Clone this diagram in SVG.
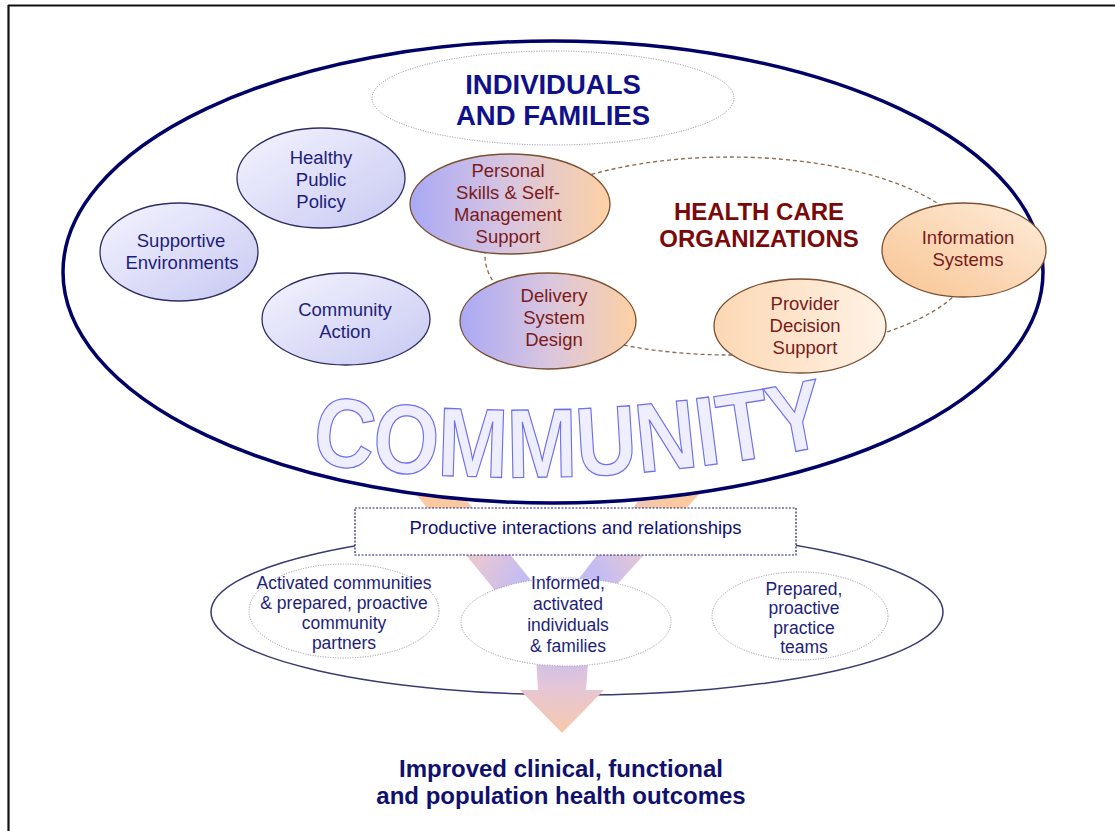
<svg xmlns="http://www.w3.org/2000/svg" width="1115" height="831" viewBox="0 0 1115 831">
<style>
  .nodeL { stroke:#2e2e66; stroke-width:1.3; }
  .nodeH { stroke:#7a4e2e; stroke-width:1.3; }
  .tL { font-family:"Liberation Sans", Arial, sans-serif; font-size:18.5px; fill:#1e1e7a; text-anchor:middle; }
  .tH { font-family:"Liberation Sans", Arial, sans-serif; font-size:18.5px; fill:#7a1a1a; text-anchor:middle; }
  .tB { font-family:"Liberation Sans", Arial, sans-serif; font-size:17.5px; fill:#1e1e7a; text-anchor:middle; }
  .dotted { fill:#ffffff; stroke:#9090a4; stroke-width:1; stroke-dasharray:1 1.5; }
  .head { font-family:"Liberation Sans", Arial, sans-serif; font-weight:bold; text-anchor:middle; }
</style>
<defs>
  <linearGradient id="gLav" x1="0" y1="0" x2="1" y2="1">
    <stop offset="0" stop-color="#f4f4ff"/>
    <stop offset="1" stop-color="#c8c8f2"/>
  </linearGradient>
  <linearGradient id="gMix" x1="0" y1="0" x2="1" y2="0">
    <stop offset="0" stop-color="#a9a9f5"/>
    <stop offset="0.5" stop-color="#d9c5df"/>
    <stop offset="1" stop-color="#fdd1a4"/>
  </linearGradient>
  <linearGradient id="gInfo" x1="0" y1="1" x2="1" y2="0">
    <stop offset="0" stop-color="#f8c492"/>
    <stop offset="1" stop-color="#feecda"/>
  </linearGradient>
  <linearGradient id="gProv" x1="0" y1="0" x2="1" y2="0">
    <stop offset="0" stop-color="#fcd8b4"/>
    <stop offset="1" stop-color="#fff2e6"/>
  </linearGradient>
  <radialGradient id="gArrow" gradientUnits="userSpaceOnUse" cx="562" cy="600" r="150">
    <stop offset="0.3" stop-color="#c4bcf2"/>
    <stop offset="0.6" stop-color="#e6c6d6"/>
    <stop offset="0.95" stop-color="#fac9a0"/>
  </radialGradient>
  <path id="commArc" d="M 306,462 Q 565,500 834,444" fill="none"/>
</defs>

<!-- frame -->
<g id="frame" fill="none" stroke="#111111" stroke-width="2.2">
  <line x1="8" y1="5.5" x2="1115" y2="5.5"/>
  <line x1="8.5" y1="5" x2="8.5" y2="831"/>
</g>

<!-- outcomes container -->
<g id="outcomes-container">
  <ellipse cx="577" cy="612" rx="366" ry="83" fill="none" stroke="#3a3a72" stroke-width="1.5"/>
</g>

<!-- connectors -->
<g id="connectors">
  <polygon points="396,470 535,639 538,690 520,690 562,733 604,690 586,690 592,612 721,470 662,470 555,610 442,470" fill="url(#gArrow)"/>
</g>

<!-- community -->
<g id="community">
  <ellipse cx="553" cy="272" rx="490" ry="231" fill="#ffffff" stroke="#000066" stroke-width="3.5"/>
</g>

<g id="individuals-families">
  <ellipse cx="553" cy="98" rx="181" ry="47" fill="none" stroke="#8a8aa6" stroke-width="1" stroke-dasharray="1 1.5"/>
  <text class="head" x="553" y="94" font-size="27.5" fill="#10108a">INDIVIDUALS</text>
  <text class="head" x="553" y="125" font-size="27.5" fill="#10108a">AND FAMILIES</text>
</g>

<g id="health-care-organizations">
  <ellipse cx="730" cy="256" rx="245" ry="99" fill="none" stroke="#8b6a4a" stroke-width="1.3" stroke-dasharray="4 3"/>
  <text class="head" x="759" y="220" font-size="24" fill="#7a0a0a">HEALTH CARE</text>
  <text class="head" x="759" y="247" font-size="24" fill="#7a0a0a">ORGANIZATIONS</text>
</g>

<g id="healthy-public-policy">
  <ellipse class="nodeL" cx="321" cy="178" rx="84" ry="50" fill="url(#gLav)"/>
  <text class="tL" x="321" y="164">Healthy</text>
  <text class="tL" x="321" y="186">Public</text>
  <text class="tL" x="321" y="208">Policy</text>
</g>

<g id="supportive-environments">
  <ellipse class="nodeL" cx="179" cy="252" rx="79" ry="49" fill="url(#gLav)"/>
  <text class="tL" x="181" y="247">Supportive</text>
  <text class="tL" x="182" y="269">Environments</text>
</g>

<g id="community-action">
  <ellipse class="nodeL" cx="346" cy="319" rx="84" ry="46" fill="url(#gLav)"/>
  <text class="tL" x="345" y="316">Community</text>
  <text class="tL" x="345" y="338">Action</text>
</g>

<g id="personal-skills">
  <ellipse class="nodeH" cx="510" cy="204" rx="100" ry="50" fill="url(#gMix)"/>
  <text class="tH" x="508" y="177">Personal</text>
  <text class="tH" x="508" y="199">Skills &amp; Self-</text>
  <text class="tH" x="508" y="221">Management</text>
  <text class="tH" x="508" y="243">Support</text>
</g>

<g id="delivery-system-design">
  <ellipse class="nodeH" cx="548" cy="321" rx="88" ry="48" fill="url(#gMix)"/>
  <text class="tH" x="554" y="302">Delivery</text>
  <text class="tH" x="554" y="324">System</text>
  <text class="tH" x="554" y="346">Design</text>
</g>

<g id="provider-decision-support">
  <ellipse class="nodeH" cx="800" cy="326" rx="86" ry="47" fill="url(#gProv)"/>
  <text class="tH" x="805" y="310">Provider</text>
  <text class="tH" x="805" y="332">Decision</text>
  <text class="tH" x="805" y="354">Support</text>
</g>

<g id="information-systems">
  <ellipse class="nodeH" cx="964" cy="250" rx="82" ry="47" fill="url(#gInfo)"/>
  <text class="tH" x="968" y="244">Information</text>
  <text class="tH" x="968" y="266">Systems</text>
</g>

<g id="community-label">
  <text font-family="Liberation Sans, Arial, sans-serif" font-weight="bold" font-size="98" fill="#eeeeff" stroke="#6f6fef" stroke-width="1.3" text-anchor="middle">
    <textPath href="#commArc" startOffset="50%" textLength="522" lengthAdjust="spacingAndGlyphs">COMMUNITY</textPath>
  </text>
</g>

<g id="productive-interactions">
  <rect x="355" y="508" width="441" height="47" fill="#ffffff" stroke="#20207a" stroke-width="1.2" stroke-dasharray="2 1.5"/>
  <text x="575.5" y="534" font-family="Liberation Sans, Arial, sans-serif" font-size="18.5" fill="#10106e" text-anchor="middle">Productive interactions and relationships</text>
</g>

<g id="activated-communities">
  <ellipse class="dotted" cx="344" cy="611" rx="95" ry="47"/>
  <text class="tB" x="344" y="589">Activated communities</text>
  <text class="tB" x="344" y="609">&amp; prepared, proactive</text>
  <text class="tB" x="344" y="629">community</text>
  <text class="tB" x="344" y="649">partners</text>
</g>

<g id="informed-individuals">
  <ellipse class="dotted" cx="566" cy="622" rx="105" ry="44"/>
  <text class="tB" x="568" y="589">Informed,</text>
  <text class="tB" x="568" y="610">activated</text>
  <text class="tB" x="568" y="631">individuals</text>
  <text class="tB" x="568" y="652">&amp; families</text>
</g>

<g id="prepared-teams">
  <ellipse class="dotted" cx="800" cy="616" rx="88" ry="44"/>
  <text class="tB" x="804" y="595">Prepared,</text>
  <text class="tB" x="804" y="614">proactive</text>
  <text class="tB" x="804" y="634">practice</text>
  <text class="tB" x="804" y="653">teams</text>
</g>

<g id="outcomes">
  <text class="head" x="561" y="777" font-size="24" fill="#10106e">Improved clinical, functional</text>
  <text class="head" x="561" y="804" font-size="24" fill="#10106e">and population health outcomes</text>
</g>
</svg>
